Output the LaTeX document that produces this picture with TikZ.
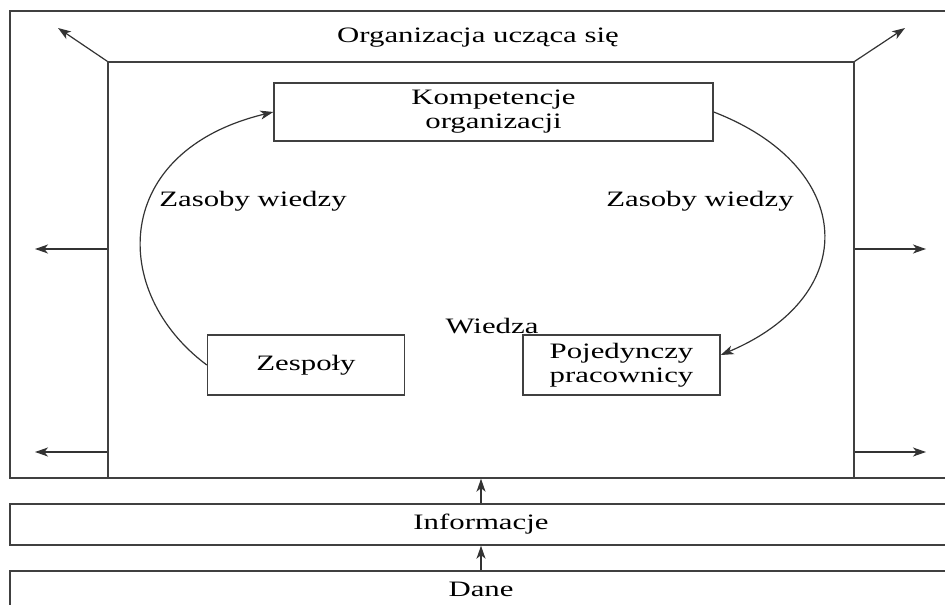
\documentclass[tikz,border=0pt]{standalone}
\usepackage{fontspec}
\setmainfont[FakeStretch=1.4]{Liberation Serif}
\usetikzlibrary{arrows.meta,calc}
\tikzset{
  box/.style={draw=black!75,line width=0.7pt,inner sep=2pt,align=center},
  arr/.style={draw=black!80,line width=0.6pt,-{Stealth[length=6.5pt,width=4.5pt,inset=1.8pt]}},
  txt/.style={anchor=base,inner sep=0pt}
}

\begin{document}
\begin{tikzpicture}[x=0.5pt,y=-0.5pt,font=\fontsize{11}{12}\selectfont]
    \useasboundingbox (0,0) rectangle (945,604);
    \clip (0,0) rectangle (945,604);
    % layers
    \node[box,minimum width=471pt,minimum height=233.5pt] (outer) at (481,244.5) {};
    \node[box,minimum width=373pt,minimum height=208pt] (org) at (481,270) {};
    \node[box,minimum width=471pt,minimum height=20.5pt] (info) at (481,524.5) {Informacje};
    \node[box,minimum width=471pt,minimum height=18.5pt] (dane) at (481,589.5) {Dane};
    \node[txt] (title) at (478,43) {Organizacja ucząca się};
    % inside the organization
    \node[box,minimum width=219.5pt,minimum height=29pt] (komp) at (493.5,112) {Kompetencje\\organizacji};
    \node[box,minimum width=98.5pt,minimum height=30pt] (zesp) at (306,365) {Zespoły};
    \node[box,minimum width=98.5pt,minimum height=30pt] (poj) at (621.5,365) {Pojedynczy\\pracownicy};
    \node[txt] (wiedza) at (492,333) {Wiedza};
    \node[txt] (zasl) at (253,206) {Zasoby wiedzy};
    \node[txt] (zasr) at (700,206) {Zasoby wiedzy};
    \draw[arr] (zesp.west) .. controls +(-98,-73) and +(-162,39) .. (komp.west);
    \draw[arr] (komp.east) .. controls +(142,55) and +(142,-60) .. ([yshift=5pt]poj.east);
    % outward arrows
    \coordinate (nw) at (58,28);
    \coordinate (ne) at (905,28);
    \coordinate (wa) at (35,249);
    \coordinate (wb) at (35,452);
    \coordinate (ea) at (926,249);
    \coordinate (eb) at (926,452);
    \draw[arr] (org.north west) -- (nw);
    \draw[arr] (org.north east) -- (ne);
    \draw[arr] (org.west |- wa) -- (wa);
    \draw[arr] (org.west |- wb) -- (wb);
    \draw[arr] (org.east |- ea) -- (ea);
    \draw[arr] (org.east |- eb) -- (eb);
    % upward flow
    \draw[arr] (info.north -| org.south) -- (org.south);
    \draw[arr] (dane.north -| org.south) -- (info.south -| org.south);
\end{tikzpicture}
\end{document}
